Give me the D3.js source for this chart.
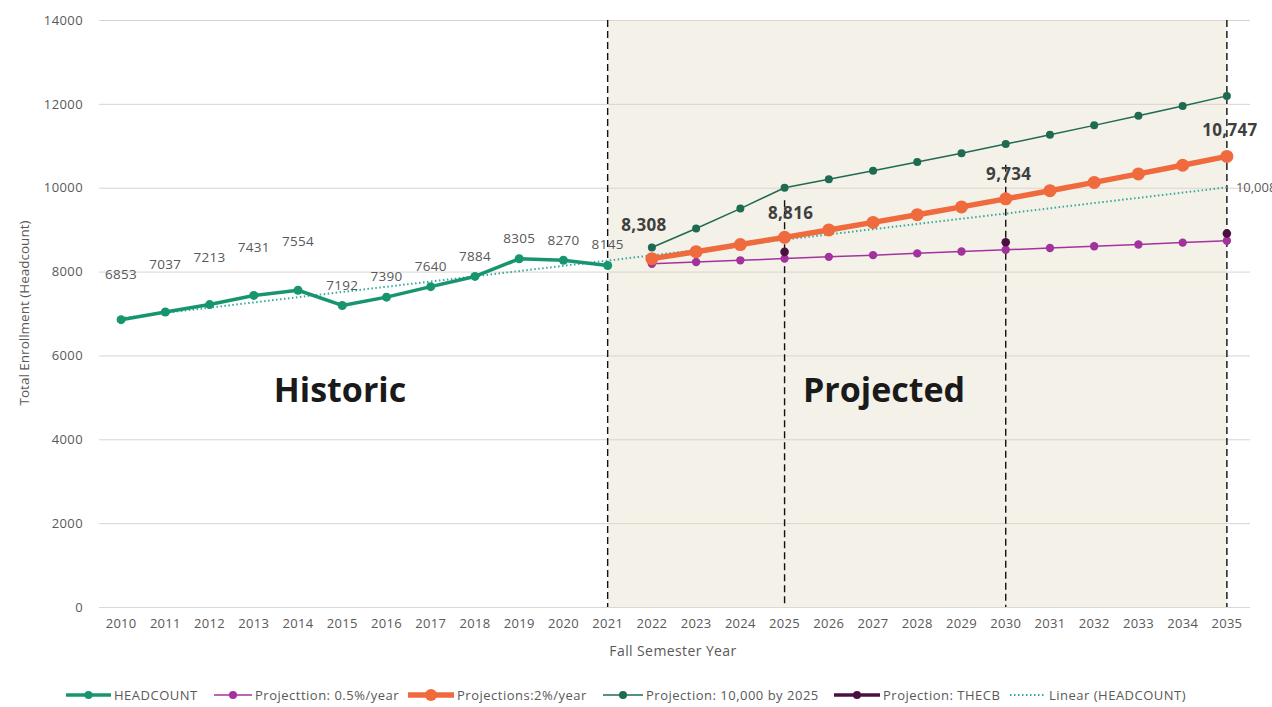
<!DOCTYPE html>
<html><head><meta charset="utf-8">
<script src="https://cdn.jsdelivr.net/npm/d3@7"></script>
<style>
html,body{margin:0;padding:0;background:#fff;overflow:hidden}
text{font-family:"Open Sans","Noto Sans",sans-serif}
</style></head>
<body><svg id="c" width="1272" height="707"></svg>
<script>
// ---- data ----
const years = ["2010","2011","2012","2013","2014","2015","2016","2017","2018","2019","2020","2021","2022","2023","2024","2025","2026","2027","2028","2029","2030","2031","2032","2033","2034","2035"];
const histYears = years.slice(0, 12);
const projYears = years.slice(12);
const headcount = [6853, 7037, 7213, 7431, 7554, 7192, 7390, 7640, 7884, 8305, 8270, 8145];
const proj05 = [8186, 8227, 8268, 8309, 8351, 8392, 8434, 8477, 8519, 8562, 8604, 8647, 8691, 8734];
const proj2 = [8308, 8474, 8644, 8816, 8993, 9173, 9356, 9543, 9734, 9929, 10127, 10330, 10536, 10747];
const proj10k = [8574, 9026, 9502, 10000, 10200, 10404, 10612, 10824, 11041, 11262, 11487, 11717, 11951, 12190];
const thecbYears = ["2025", "2030", "2035"];
const thecb = [8470, 8700, 8910];
const trendYears = ["2010", "2035"];
const trendValues = [6890, 10008];
const calloutYears = ["2022", "2025", "2030", "2035"];
const yTicks = [0, 2000, 4000, 6000, 8000, 10000, 12000, 14000];
const markerYears = ["2021", "2025", "2030", "2035"];
const markerTops = [14000, 9700, 10550, 14000];
const legendLabels = ["HEADCOUNT", "Projecttion: 0.5%/year", "Projections:2%/year", "Projection: 10,000 by 2025", "Projection: THECB", "Linear (HEADCOUNT)"];

// ---- layout (not data) ----
const hcLabelDy = [46, 48, 48, 48, 49, 20, 21, 21, 20, 21, 20, 21];
const calloutOffsets = [[-8, -34], [6, -24], [3, -25], [3, -26]];

const svg = d3.select("#c");
const x = d3.scaleBand().domain(years).range([99, 1249]);
const cx = d => x(d) + x.bandwidth() / 2;
const y = d3.scaleLinear().domain([0, 14000]).range([607, 20]);

const C = {
  head: "#17956f", p05: "#a3339c", p2: "#ef6a3d", p10k: "#1f6b52",
  thecb: "#4b0f42", trend: "#35a99c", grid: "#ddd3cb", text: "#595959"
};

// shaded projected region
svg.append("rect")
  .attr("x", cx("2021")).attr("y", y(14000))
  .attr("width", cx("2035") - cx("2021")).attr("height", y(0) - y(14000))
  .attr("fill", "#f4f1e9");

// gridlines + y axis labels
const yAxis = d3.axisLeft(y).tickValues(yTicks).tickSize(-(1250 - 99)).tickPadding(16).tickFormat(d3.format("d"));
const ga = svg.append("g").attr("transform", "translate(99,0)").call(yAxis);
ga.select(".domain").remove();
ga.selectAll(".tick line").attr("stroke", C.grid).attr("stroke-width", 1);
ga.selectAll(".tick text").attr("fill", C.text).attr("font-size", 13).attr("letter-spacing", 0.4);

// x axis
const xAxis = d3.axisBottom(x).tickSize(0).tickPadding(12);
const gx = svg.append("g").attr("transform", "translate(0,607)").call(xAxis);
gx.select(".domain").attr("stroke", "#d9d9d9");
gx.selectAll(".tick text").attr("fill", C.text).attr("font-size", 13).attr("letter-spacing", 0.3);

// axis titles
svg.append("text").attr("transform", "translate(29,313) rotate(-90)")
  .attr("text-anchor", "middle").attr("fill", C.text).attr("font-size", 13.5)
  .text("Total Enrollment (Headcount)");
svg.append("text").attr("x", 673).attr("y", 656)
  .attr("text-anchor", "middle").attr("fill", C.text).attr("font-size", 14)
  .attr("letter-spacing", 0.4).text("Fall Semester  Year");

// dashed vertical markers
svg.selectAll(".vline").data(markerYears).join("line")
  .attr("x1", d => cx(d)).attr("x2", d => cx(d))
  .attr("y1", (d, i) => y(markerTops[i])).attr("y2", y(0))
  .attr("stroke", "#111").attr("stroke-width", 1.4).attr("stroke-dasharray", "7,4");

// big section labels
svg.append("text").attr("x", 340).attr("y", 402).attr("text-anchor", "middle")
  .attr("font-size", 34).attr("font-weight", 700).attr("fill", "#1a1a1a").text("Historic");
svg.append("text").attr("x", 884).attr("y", 402).attr("text-anchor", "middle")
  .attr("font-size", 34).attr("font-weight", 700).attr("fill", "#1a1a1a").text("Projected");

const line = d3.line().x(d => cx(d[0])).y(d => y(d[1]));

// linear trend
svg.append("path").datum(d3.zip(trendYears, trendValues)).attr("d", line)
  .attr("fill", "none").attr("stroke", C.trend).attr("stroke-width", 2).attr("stroke-dasharray", "1.5,2.5");
svg.append("text").attr("x", cx("2035") + 9).attr("y", y(trendValues[1]) + 5)
  .attr("fill", C.text).attr("font-size", 13).text(d3.format(",")(trendValues[1]));

function series(ys, vals, color, w, r) {
  const data = d3.zip(ys, vals);
  svg.append("path").datum(data).attr("d", line).attr("fill", "none")
    .attr("stroke", color).attr("stroke-width", w).attr("stroke-linejoin", "round");
  svg.append("g").selectAll("circle").data(data).join("circle")
    .attr("cx", d => cx(d[0])).attr("cy", d => y(d[1])).attr("r", r).attr("fill", color);
}

series(projYears, proj10k, C.p10k, 1.5, 4);
series(projYears, proj05, C.p05, 1.5, 4.2);
// THECB markers only
svg.append("g").selectAll("circle").data(d3.zip(thecbYears, thecb)).join("circle")
  .attr("cx", d => cx(d[0])).attr("cy", d => y(d[1])).attr("r", 4.3).attr("fill", C.thecb);
series(projYears, proj2, C.p2, 5.5, 6.5);
series(histYears, headcount, C.head, 3.5, 4.5);

// headcount labels
svg.append("g").selectAll("text").data(d3.zip(histYears, headcount)).join("text")
  .attr("x", d => cx(d[0])).attr("y", (d, i) => y(d[1]) - hcLabelDy[i] + 5)
  .attr("text-anchor", "middle").attr("fill", C.text).attr("font-size", 13.5).attr("letter-spacing", 0.3)
  .text(d => d[1]);

// callouts on the 2% line
svg.append("g").selectAll("text").data(calloutYears).join("text")
  .attr("x", (d, i) => cx(d) + calloutOffsets[i][0])
  .attr("y", (d, i) => y(proj2[projYears.indexOf(d)]) + calloutOffsets[i][1] + 6)
  .attr("text-anchor", "middle").attr("fill", "#3f3f3f").attr("font-size", 17).attr("font-weight", 700)
  .attr("letter-spacing", 0.3)
  .text(d => d3.format(",")(proj2[projYears.indexOf(d)]));

// legend
const legendStyles = [
  {c: C.head, w: 3.5, r: 4, dash: null, lx: 66, len: 45},
  {c: C.p05, w: 1.5, r: 4, dash: null, lx: 214, len: 38},
  {c: C.p2, w: 5.5, r: 6, dash: null, lx: 408, len: 46},
  {c: C.p10k, w: 1.5, r: 4, dash: null, lx: 603, len: 40},
  {c: C.thecb, w: 3.5, r: 4, dash: null, lx: 834, len: 46},
  {c: C.trend, w: 2, r: 0, dash: "1.5,2.5", lx: 1010, len: 36}
];
const lg = svg.append("g").selectAll("g").data(legendLabels).join("g");
lg.append("line")
  .attr("x1", (d, i) => legendStyles[i].lx).attr("x2", (d, i) => legendStyles[i].lx + legendStyles[i].len)
  .attr("y1", 695).attr("y2", 695)
  .attr("stroke", (d, i) => legendStyles[i].c).attr("stroke-width", (d, i) => legendStyles[i].w)
  .attr("stroke-dasharray", (d, i) => legendStyles[i].dash);
lg.filter((d, i) => legendStyles[i].r > 0).append("circle")
  .attr("cx", d => legendStyles[legendLabels.indexOf(d)].lx + legendStyles[legendLabels.indexOf(d)].len / 2)
  .attr("cy", 695).attr("r", d => legendStyles[legendLabels.indexOf(d)].r)
  .attr("fill", d => legendStyles[legendLabels.indexOf(d)].c);
lg.append("text")
  .attr("x", (d, i) => legendStyles[i].lx + legendStyles[i].len + 3).attr("y", 699.5)
  .attr("fill", C.text).attr("font-size", 13).attr("letter-spacing", 0.5).text(d => d);
</script></body></html>
